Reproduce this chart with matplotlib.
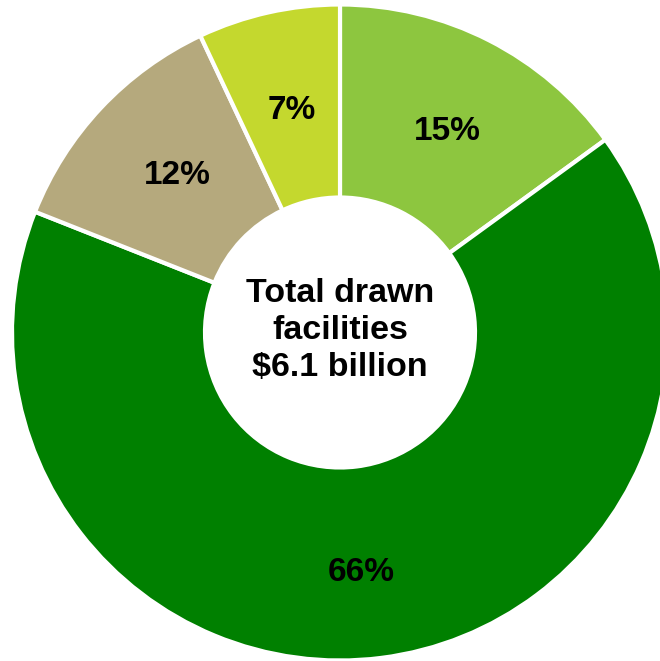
import matplotlib
matplotlib.use("Agg")
import matplotlib.pyplot as plt

# Share of total drawn facilities, clockwise from 12 o'clock
labels = ["15%", "66%", "12%", "7%"]
shares = [15, 66, 12, 7]
colors = ["#8DC63F", "#008000", "#B5A97D", "#C4D82E"]
center_title = "Total drawn\nfacilities\n$6.1 billion"

W, H = 660, 661
fig = plt.figure(figsize=(W / 100, H / 100), dpi=100)
ax = fig.add_axes([0, 0, 1, 1])

cx, cy = 340, H - 332.5
r_out, r_in = 328, 135

wedges, texts = ax.pie(
    shares,
    colors=colors,
    startangle=90,
    counterclock=False,
    center=(cx, cy),
    radius=r_out,
    labels=labels,
    labeldistance=0.70,
    wedgeprops=dict(width=r_out - r_in, edgecolor="white", linewidth=3),
    textprops=dict(fontsize=24, fontweight="bold", family="Liberation Sans",
                   color="black", ha="center", va="center"),
    frame=True,
)
# small offsets for label placement (pixels)
offsets = [(3, -4), (-8, -3), (5, 0), (2, -2)]
for t, (dx, dy) in zip(texts, offsets):
    x, y = t.get_position()
    t.set_position((x + dx, y + dy))
x, y = texts[1].get_position()
texts[1].set_position((cx + (x - cx) * 1.04, cy + (y - cy) * 1.04))

ax.set_xlim(0, W)
ax.set_ylim(0, H)
ax.set_aspect("equal")
ax.axis("off")

ax.text(cx, cy + 2, center_title, ha="center", va="center", fontsize=24.5,
        fontweight="bold", family="Liberation Sans", linespacing=1.25)

fig.savefig("out.png", dpi=100)
